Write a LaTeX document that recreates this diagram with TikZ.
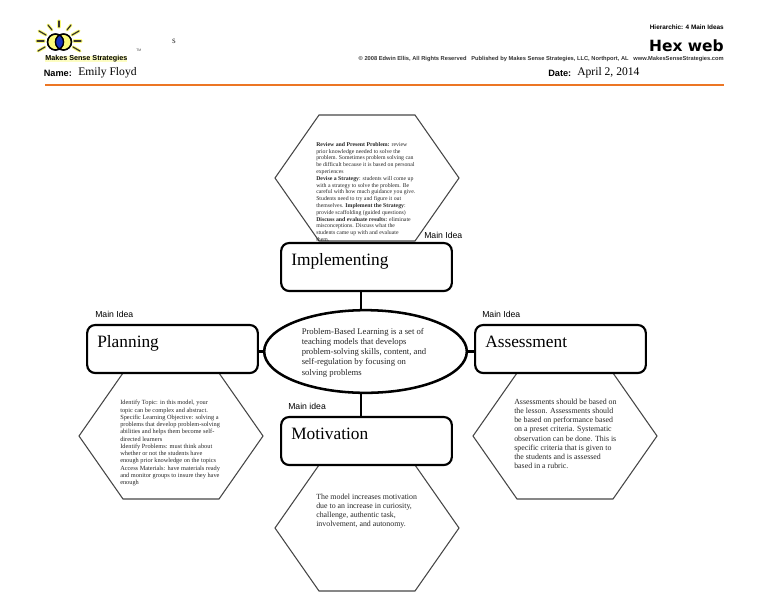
\documentclass[tikz,border=0pt]{standalone}
\usepackage{fontspec}
\setmainfont{Liberation Serif}
\newfontfamily\labelfont{Liberation Sans}
\newfontfamily\titlefont{DejaVu Sans}
\usetikzlibrary{shapes.geometric}
\definecolor{rulecolor}{RGB}{236,118,36}
\definecolor{hexcolor}{RGB}{70,70,70}
\definecolor{glowcolor}{RGB}{250,250,120}
\definecolor{lenscolor}{RGB}{20,50,190}
\begin{document}
\begin{tikzpicture}[x=0.75pt, y=-0.75pt,
		hexside/.style={draw=hexcolor, line width=0.8pt, line join=miter},
		ideabox/.style={draw, fill=white, rectangle, rounded corners=6pt, line width=1.6pt, minimum width=128pt, minimum height=36pt, inner sep=0pt},
		ideaname/.style={anchor=base west, inner sep=0pt, font=\fontsize{13}{15}\selectfont},
		hub/.style={draw, fill=white, ellipse, line width=1.9pt, minimum width=152pt, minimum height=62pt, inner sep=0pt},
		link/.style={line width=2.2pt},
		mainidea/.style={anchor=west, inner sep=0pt, font=\labelfont\fontsize{6.5}{8}\selectfont},
		notes/.style={anchor=north west, inner sep=0pt, align=left, text=black!85},
		header/.style={inner sep=0pt, font=\labelfont\bfseries\fontsize{7}{8}\selectfont},
		filled/.style={inner sep=0pt, font=\fontsize{8.7}{10}\selectfont},
		ray/.style={line width=0.9pt, draw=black!80!olive, line cap=round}]

	\useasboundingbox (0,0) rectangle (768,594);

	% hexagons
	\foreach \cx/\cy in {367/178, 171/436, 565/436, 367/528} {
		\draw[hexside] (\cx-92,\cy) -- (\cx-48,\cy-63) -- (\cx+48,\cy-63) -- (\cx+92,\cy) -- (\cx+48,\cy+63) -- (\cx-48,\cy+63) -- cycle;
	}

	% notes in the hexagons
	\node[notes, font=\fontsize{4.35}{5.1}\selectfont] (topnotes) at (316,142) {\textbf{Review and Present Problem:} review\\
		prior knowledge needed to solve the\\
		problem. Sometimes problem solving can\\
		be difficult because it is based on personal\\
		experiences\\
		\textbf{Devise a Strategy}: students will come up\\
		with a strategy to solve the problem. Be\\
		careful with how much guidance you give.\\
		Students need to try and figure it out\\
		themselves. \textbf{Implement the Strategy}:\\
		provide scaffolding (guided questions)\\
		\textbf{Discuss and evaluate results:} eliminate\\
		misconceptions. Discuss what the\\
		students came up with and evaluate\\
		them.};
	\node[notes, font=\fontsize{4.75}{5.45}\selectfont] (leftnotes) at (120,400) {Identify Topic: in this model, your\\
		topic can be complex and abstract.\\
		Specific Learning Objective: solving a\\
		problems that develop problem-solving\\
		abilities and helps them become self-\\
		directed learners\\
		Identify Problems: must think about\\
		whether or not the students have\\
		enough prior knowledge on the topics\\
		Access Materials: have materials ready\\
		and monitor groups to insure they have\\
		enough};
	\node[notes, font=\fontsize{5.9}{6.8}\selectfont] (rightnotes) at (514,399) {Assessments should be based on\\
		the lesson. Assessments should\\
		be based on performance based\\
		on a preset criteria. Systematic\\
		observation can be done. This is\\
		specific criteria that is given to\\
		the students and is assessed\\
		based in a rubric.};
	\node[notes, font=\fontsize{5.9}{6.9}\selectfont] (bottomnotes) at (316,493.5) {The model increases motivation\\
		due to an increase in curiosity,\\
		challenge, authentic task,\\
		involvement, and autonomy.};

	% web
	\node[hub] (center) at (365.5,351.5) {};
	\node[ideabox] (implementing) at (366.5,267) {};
	\node[ideabox] (planning) at (172.5,349) {};
	\node[ideabox] (assessment) at (560.5,349) {};
	\node[ideabox] (motivation) at (366.5,441) {};

	\coordinate (stem) at (361,0);
	\draw[link] (implementing.south -| stem) -- (center.north -| stem);
	\draw[link] (center.south -| stem) -- (motivation.north -| stem);
	\draw[link] (center.west -| planning.east) -- (center.west);
	\draw[link] (center.east) -- (center.east -| assessment.west);

	\node[notes, font=\fontsize{6.5}{7.65}\selectfont] (centertext) at (301.5,328) {Problem-Based Learning is a set of\\
		teaching models that develops\\
		problem-solving skills, content, and\\
		self-regulation by focusing on\\
		solving problems};

	\node[ideaname] (implementingname) at (291,265) {Implementing};
	\node[ideaname] (planningname) at (97,347) {Planning};
	\node[ideaname] (assessmentname) at (485,347) {Assessment};
	\node[ideaname] (motivationname) at (291,439) {Motivation};

	\node[mainidea] (ideatop) at (424,235) {Main Idea};
	\node[mainidea] (idealeft) at (95,314) {Main Idea};
	\node[mainidea] (idearight) at (482,314) {Main Idea};
	\node[mainidea] (ideabottom) at (288,406.5) {Main idea};

	% logo
	\foreach \ax/\ay/\bx/\by in {59/21/59/27, 48/25/52/30, 71/25/67/30, 39/31/46/35, 79/31/72/35, 37/41/44/41, 81/41/74/41, 38/51/45/47, 80/51/73/47} {
		\draw[glowcolor, line width=2.4pt, line cap=round] (\ax,\ay) -- (\bx,\by);
		\draw[ray] (\ax,\ay) -- (\bx,\by);
	}
	\draw[draw=black, fill=glowcolor, line width=1.1pt] (55.5,42) circle[radius=8] (63.5,42) circle[radius=8];
	\begin{scope}
		\clip (55.5,42) circle[radius=8];
		\fill[lenscolor] (63.5,42) circle[radius=8];
	\end{scope}
	\draw[draw=black, line width=0.9pt] (55.5,42) circle[radius=8] (63.5,42) circle[radius=8];
	\node[anchor=west, inner sep=0pt, fill=glowcolor!45, font=\labelfont\bfseries\fontsize{5.4}{7}\selectfont] (logotext) at (45,59) {Makes Sense Strategies};
	\node[anchor=west, inner sep=0pt, font=\labelfont\fontsize{2.6}{3}\selectfont, text=black!70] (logotm) at (136,50) {TM};
	\node[inner sep=0pt, font=\fontsize{7}{8}\selectfont, text=black!80] (stray) at (174,41) {s};

	% header
	\node[anchor=west, header, font=\labelfont\bfseries\fontsize{6.9}{8}\selectfont] (namelabel) at (43.5,73) {Name:};
	\node[filled] (nameval) [anchor=west] at (78,72.5) {Emily Floyd};
	\node[anchor=east, header, font=\labelfont\bfseries\fontsize{4.8}{6}\selectfont] (hierarchic) at (724,27.5) {Hierarchic: 4 Main Ideas};
	\node[anchor=east, header, font=\titlefont\bfseries\fontsize{11.6}{13}\selectfont] (hexweb) at (724,45.5) {Hex web};
	\node[anchor=east, header, font=\labelfont\bfseries\fontsize{4.3}{5}\selectfont, text=black!80] (credits) at (724,59.5) {© 2008 Edwin Ellis, All Rights Reserved\ \ \ Published by Makes Sense Strategies, LLC, Northport, AL\ \ \ www.MakesSenseStrategies.com};
	\node[anchor=west, header, font=\labelfont\bfseries\fontsize{6.9}{8}\selectfont] (datelabel) at (548,73) {Date:};
	\node[filled] (dateval) [anchor=west] at (577,72.5) {April 2, 2014};

	\coordinate (ruleleft) at (45,85);
	\coordinate (ruleright) at (724,85);
	\draw[rulecolor, line width=1.5pt] (ruleleft) -- (ruleright);
\end{tikzpicture}
\end{document}
